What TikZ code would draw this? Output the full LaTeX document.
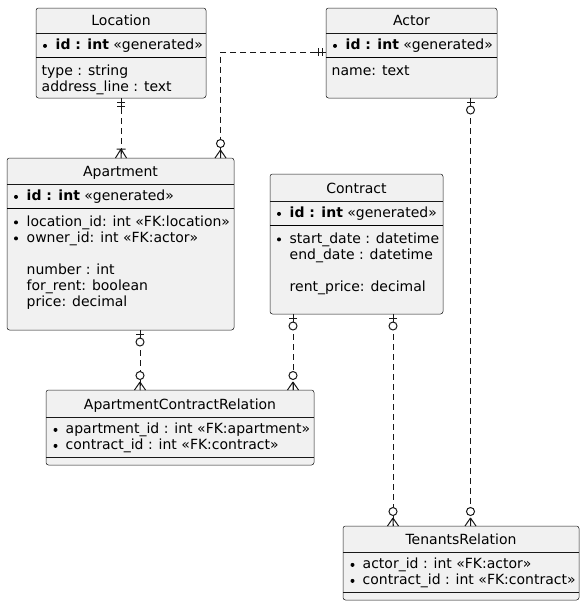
\documentclass[tikz,border=0pt]{standalone}
\usepackage{fontspec}
\setmainfont{DejaVu Sans}
\usetikzlibrary{calc}
\definecolor{entfill}{HTML}{F1F1F1}
\definecolor{entline}{HTML}{181818}
\tikzset{
  ent/.style={rectangle, draw=entline, line width=0.5pt, fill=entfill, rounded corners=2.5pt, inner sep=0pt, outer sep=0pt, anchor=north west},
  tsep/.style={draw=entline, line width=0.5pt},
  isep/.style={draw=black, line width=1pt},
  ttl/.style={anchor=base, inner sep=0pt, font=\fontsize{14}{16}\selectfont},
  attr/.style={anchor=base west, inner sep=0pt, font=\fontsize{14}{16}\selectfont},
  rel/.style={draw=entline, line width=1pt, dash pattern=on 6pt off 4pt},
  glyph/.style={draw=entline, line width=1pt},
  erOne/.pic={\draw[glyph] (0,0)--(10,0) (4,-4)--(4,4) (8,-4)--(8,4);},
  erZeroOne/.pic={\draw[glyph] (0,0)--(8,0) (4,-4)--(4,4); \draw[glyph, fill=white] (12,0) circle (4);},
  erOneMany/.pic={\draw[glyph] (9,0)--(0,-5.5) (9,0)--(0,0) (9,0)--(0,5.5) (9,-4.5)--(9,4.5);},
  erZeroMany/.pic={\draw[glyph] (8,0)--(0,-5.5) (8,0)--(0,0) (8,0)--(0,5.5); \draw[glyph, fill=white] (14.5,0) circle (4);},
}
\newcommand\bul[2]{\fill[black] (#1,#2) ++(0,-3.6) circle (2.0);}
\begin{document}
\begin{tikzpicture}[x=1pt,y=-1pt]
\useasboundingbox[fill=white] (0,0) rectangle (585,606);

% ---------- Location ----------
\node[ent, minimum width=170pt, minimum height=90pt] (loc) at (36,8) {};
\draw[tsep] (36,33) -- (206,33);
\draw[isep] (36,57) -- (206,57);
\node[ttl] (locT) at (121,25.5) {Location};
\bul{45}{49.5}
\node[attr] (locA1) at (55.5,49.5) {\textbf{id : int} «generated»};
\node[attr] (locA2) at (41.5,75) {type : string};
\node[attr] (locA3) at (41.5,91) {address\_line : text};

% ---------- Actor ----------
\node[ent, minimum width=171pt, minimum height=90pt] (act) at (326,8) {};
\draw[tsep] (326,33) -- (497,33);
\draw[isep] (326,57) -- (497,57);
\node[ttl] (actT) at (411.5,25.5) {Actor};
\bul{335}{49.5}
\node[attr] (actA1) at (345.5,49.5) {\textbf{id : int} «generated»};
\node[attr] (actA2) at (331.5,75) {name: text};

% ---------- Apartment ----------
\node[ent, minimum width=227pt, minimum height=172pt] (apt) at (7,158) {};
\draw[tsep] (7,184) -- (234,184);
\draw[isep] (7,208) -- (234,208);
\node[ttl] (aptT) at (120.5,176.5) {Apartment};
\bul{16}{200.5}
\node[attr] (aptA1) at (26.5,200.5) {\textbf{id : int} «generated»};
\bul{16}{226}
\node[attr] (aptA2) at (26.5,226) {location\_id: int «FK:location»};
\bul{16}{242}
\node[attr] (aptA3) at (26.5,242) {owner\_id: int «FK:actor»};
\node[attr] (aptA4) at (26.5,274) {number : int};
\node[attr] (aptA5) at (26.5,290) {for\_rent: boolean};
\node[attr] (aptA6) at (26.5,306) {price: decimal};

% ---------- Contract ----------
\node[ent, minimum width=173pt, minimum height=140pt] (con) at (270,174) {};
\draw[tsep] (270,201) -- (443,201);
\draw[isep] (270,225) -- (443,225);
\node[ttl] (conT) at (356.5,193.5) {Contract};
\bul{279}{217.5}
\node[attr] (conA1) at (289.5,217.5) {\textbf{id : int} «generated»};
\bul{279}{243}
\node[attr] (conA2) at (289.5,243) {start\_date : datetime};
\node[attr] (conA3) at (289.5,259) {end\_date : datetime};
\node[attr] (conA4) at (289.5,291) {rent\_price: decimal};

% ---------- ApartmentContractRelation ----------
\node[ent, minimum width=268pt, minimum height=75pt] (acr) at (46,390) {};
\draw[tsep] (46,417) -- (314,417);
\draw[tsep] (46,457) -- (314,457);
\node[ttl] (acrT) at (180,409.5) {ApartmentContractRelation};
\bul{55.5}{433.5}
\node[attr] (acrA1) at (65.5,433.5) {apartment\_id : int «FK:apartment»};
\bul{55.5}{449.5}
\node[attr] (acrA2) at (65.5,449.5) {contract\_id : int «FK:contract»};

% ---------- TenantsRelation ----------
\node[ent, minimum width=236pt, minimum height=74pt] (ten) at (343,526) {};
\draw[tsep] (343,552) -- (579,552);
\draw[tsep] (343,592) -- (579,592);
\node[ttl] (tenT) at (461,544.5) {TenantsRelation};
\bul{352.5}{568.5}
\node[attr] (tenA1) at (362.5,568.5) {actor\_id : int «FK:actor»};
\bul{352.5}{584.5}
\node[attr] (tenA2) at (362.5,584.5) {contract\_id : int «FK:contract»};

% ---------- connector end points ----------
\coordinate (e1a) at (loc.south);
\coordinate (e1b) at (e1a |- apt.north);
\coordinate (e2a) at ($(act.north west)+(0,44)$);
\coordinate (e2b) at ($(apt.north west)+(213.5,0)$);
\coordinate (e3a) at ($(act.south west)+(144.5,0)$);
\coordinate (e3b) at (e3a |- ten.north);
\coordinate (e4a) at ($(apt.south west)+(133,0)$);
\coordinate (e4b) at (e4a |- acr.north);
\coordinate (e5a) at ($(con.south west)+(23,0)$);
\coordinate (e5b) at (e5a |- acr.north);
\coordinate (e6a) at ($(con.south west)+(123,0)$);
\coordinate (e6b) at (e6a |- ten.north);

\draw[rel] (e1a) -- (e1b);
\draw[rel] (e2a) -| (e2b);
\draw[rel] (e3a) -- (e3b);
\draw[rel] (e4a) -- (e4b);
\draw[rel] (e5a) -- (e5b);
\draw[rel] (e6a) -- (e6b);

\pic[rotate=-90] at (e1a) {erOne};
\pic[rotate=90] at (e1b) {erOneMany};
\pic[rotate=180] at (e2a) {erOne};
\pic[rotate=90] at (e2b) {erZeroMany};
\pic[rotate=-90] at (e3a) {erZeroOne};
\pic[rotate=90] at (e3b) {erZeroMany};
\pic[rotate=-90] at (e4a) {erZeroOne};
\pic[rotate=90] at (e4b) {erZeroMany};
\pic[rotate=-90] at (e5a) {erZeroOne};
\pic[rotate=90] at (e5b) {erZeroMany};
\pic[rotate=-90] at (e6a) {erZeroOne};
\pic[rotate=90] at (e6b) {erZeroMany};
\end{tikzpicture}
\end{document}
